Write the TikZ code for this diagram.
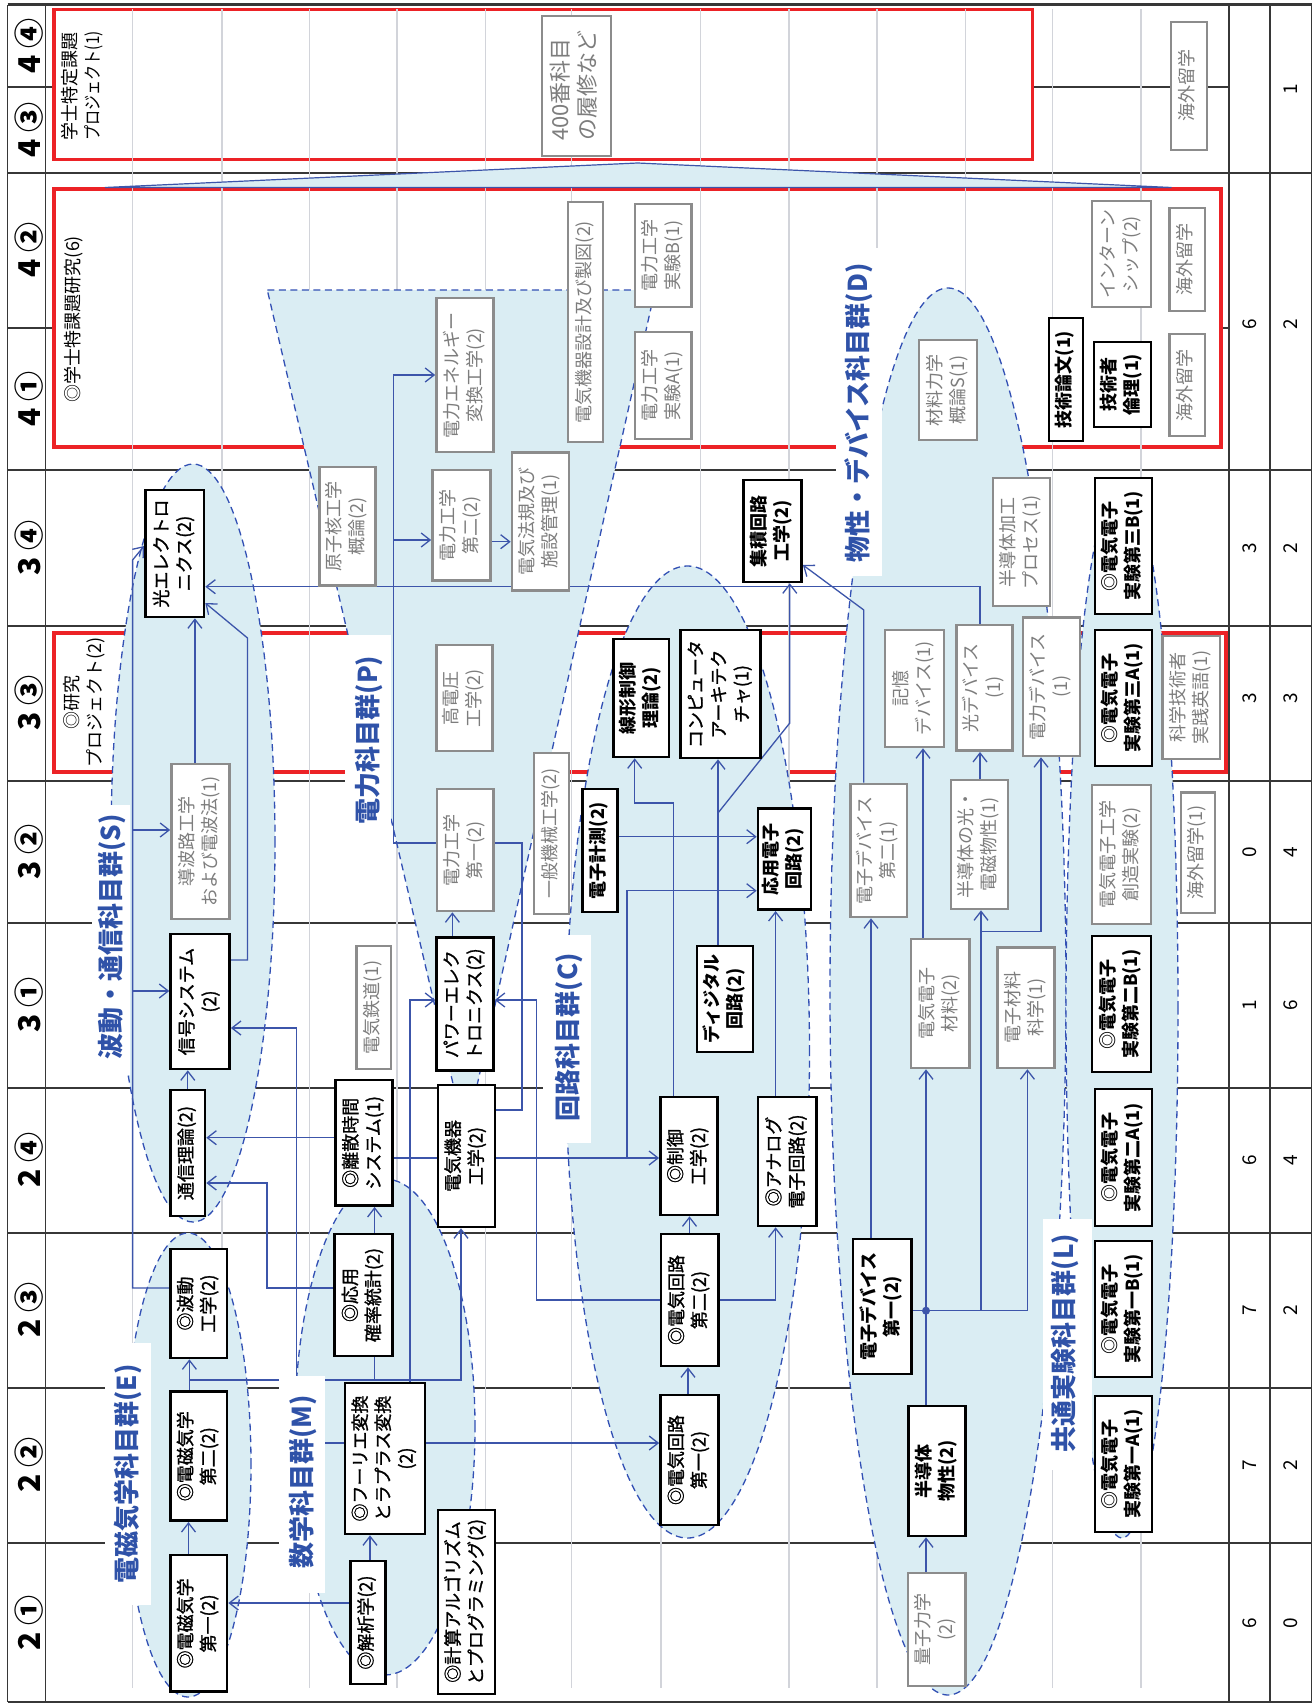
\documentclass[tikz,border=0pt]{standalone}
\usepackage{fontspec}
\usepackage{graphicx}
\setmainfont{Noto Sans CJK JP}
\newfontfamily\medfnt{Noto Sans CJK JP}[FakeBold=1.2]
\usetikzlibrary{arrows.meta,calc}
\definecolor{redc}{RGB}{236,34,38}
\definecolor{fillblue}{RGB}{218,237,243}
\definecolor{dashblue}{RGB}{50,80,180}
\definecolor{connblue}{RGB}{60,85,170}
\definecolor{labelblue}{RGB}{47,82,168}
\definecolor{gridgray}{RGB}{210,212,218}
\definecolor{boxgray}{RGB}{140,140,140}
\definecolor{textgray}{RGB}{125,125,125}
\definecolor{darkline}{RGB}{55,55,55}
\pgfdeclarelayer{bg}\pgfdeclarelayer{fills}\pgfdeclarelayer{lines}\pgfdeclarelayer{labels}
\pgfsetlayers{bg,fills,lines,labels,main}
\newcommand{\rt}[1]{\rotatebox{90}{\begin{tabular}{@{}c@{}}#1\end{tabular}}}
\newcommand{\rtl}[1]{\rotatebox{90}{\begin{tabular}{@{}l@{}}#1\end{tabular}}}
\newcommand{\boxfnt}{\fontsize{18}{23}\selectfont}
\begin{document}
\begin{tikzpicture}[x=1pt,y=-1pt,
  bk/.style={draw=black,line width=2.6pt,fill=white,inner sep=0pt,font=\boxfnt\bfseries},
  bkm/.style={bk,font=\medfnt\boxfnt},
  gy/.style={draw=boxgray,line width=2.6pt,fill=white,inner sep=0pt,text=textgray,font=\boxfnt},
  txt/.style={inner sep=0pt,font=\boxfnt},
  glab/.style={inner sep=0pt,text=labelblue,font=\fontsize{26}{30}\selectfont\bfseries},
  slab/.style={inner sep=0pt,font=\fontsize{30}{34}\selectfont\bfseries},
  num/.style={inner sep=0pt,font=\fontsize{19}{22}\selectfont},
  dk/.style={draw=darkline,line width=1.5pt},
  gl/.style={draw=gridgray,line width=1.5pt},
  fb/.style={fill=fillblue,draw=dashblue,line width=1.3pt,dash pattern=on 7pt off 4.5pt},
  ln/.style={draw=connblue,line width=1.3pt},
  ar/.style={draw=connblue,line width=1.3pt,-{Straight Barb[length=9pt,width=14pt,line width=1.3pt]}}]
\useasboundingbox (0,0) rectangle (1315,1704);
\begin{pgfonlayer}{bg}
\fill[white] (0,0) rectangle (1315,1704);
\foreach \y in {173,470,626,781,923,1088,1233,1388,1543} \draw[dk] (7.6,\y) -- (1311.6,\y);
\foreach \y in {87,328} \draw[dk] (7.6,\y) -- (1229,\y);
\foreach \x in {7.6,45.5,1229,1270,1311.6} \draw[dk] (\x,5) -- (\x,1702);
\draw[dk,line width=3pt] (7.6,5) -- (1311.6,5);
\draw[dk] (7.6,1702) -- (1311.6,1702);
\filldraw[fill=white,draw=redc,line width=3.5pt] (54,9.3) rectangle (1032.6,159.3);
\filldraw[fill=white,draw=redc,line width=3.5pt] (54,189) rectangle (1221,447);
\filldraw[fill=white,draw=redc,line width=3.5pt] (54,633) rectangle (1226,772);
\foreach \x in {132.6,221.8,309.3,396.9,485.3,571.5,788.8,877.2,965.6,1052.7,1141.1} \draw[gl] (\x,9) -- (\x,1688);
\draw[gl] (700.5,9) -- (700.5,850);
\draw[gl] (661,850) -- (661,1688);
\end{pgfonlayer}
\begin{pgfonlayer}{fills}
\filldraw[fill=fillblue,draw=connblue,line width=1.2pt] (105,187.5) -- (637.6,163) -- (1171.6,187.5) -- cycle;
\filldraw[fb] (267.3,290) -- (655,290) -- (465.5,1137) -- cycle;
\filldraw[fb] (193,843) ellipse [x radius=82pt,y radius=379pt];
\filldraw[fb] (188,1465) ellipse [x radius=63pt,y radius=232pt];
\filldraw[fb] (385,1427) ellipse [x radius=90pt,y radius=248pt];
\filldraw[fb] (687.5,1052) ellipse [x radius=122pt,y radius=486pt];
\filldraw[fb] (948,991.5) ellipse [x radius=118pt,y radius=703.5pt];
\filldraw[fb] (1122,1008) ellipse [x radius=56pt,y radius=530pt];
\end{pgfonlayer}
\begin{pgfonlayer}{labels}
\fill[white] (92,805) rectangle (129.5,1075);
\fill[white] (105,1343) rectangle (150.7,1605);
\fill[white] (279,1376) rectangle (325,1593);
\fill[white] (345,635) rectangle (391,850);
\fill[white] (543,935) rectangle (591,1143);
\fill[white] (836,248) rectangle (882,576);
\fill[white] (1043,1219) rectangle (1092,1470);
\end{pgfonlayer}
% semester labels
\node[slab] at (29,46) {\rotatebox{90}{4 ④}};
\node[slab] at (29,130) {\rotatebox{90}{4 ③}};
\node[slab] at (29,250) {\rotatebox{90}{4 ②}};
\node[slab] at (29,399) {\rotatebox{90}{4 ①}};
\node[slab] at (29,548) {\rotatebox{90}{3 ④}};
\node[slab] at (29,703) {\rotatebox{90}{3 ③}};
\node[slab] at (29,852) {\rotatebox{90}{3 ②}};
\node[slab] at (29,1005) {\rotatebox{90}{3 ①}};
\node[slab] at (29,1160) {\rotatebox{90}{2 ④}};
\node[slab] at (29,1310) {\rotatebox{90}{2 ③}};
\node[slab] at (29,1465) {\rotatebox{90}{2 ②}};
\node[slab] at (29,1623) {\rotatebox{90}{2 ①}};
% numbers
\node[num] at (1290.8,89) {\rotatebox{90}{1}};
\foreach \yy/\a/\b in {324/6/2,548/3/2,698/3/3,852/0/4,1005/1/6,1160/6/4,1310/7/2,1465/7/2,1623/6/0}{
  \node[num] at (1249.5,\yy) {\rotatebox{90}{\a}};
  \node[num] at (1290.8,\yy) {\rotatebox{90}{\b}};}
% red box texts
\node[txt,anchor=south] at (83,141) {\rtl{学士特定課題\\\scalebox{0.84}[1]{プロジェクト(1)}}};
\node[txt] at (73.5,319) {\rotatebox{90}{◎学士特課題研究(6)}};
\node[txt] at (85,702) {\rt{◎研究\\プロジェクト(2)}};
% group labels
\node[glab] at (112.5,937) {\rotatebox{90}{波動・通信科目群(S)}};
\node[glab] at (127.5,1474) {\rotatebox{90}{電磁気学科目群(E)}};
\node[glab] at (303,1482) {\rotatebox{90}{数学科目群(M)}};
\node[glab] at (369,740) {\rotatebox{90}{電力科目群(P)}};
\node[glab] at (569.3,1037) {\rotatebox{90}{回路科目群(C)}};
\node[glab] at (858.5,413) {\rotatebox{90}{物性・デバイス科目群(D)}};
\node[glab] at (1065,1343) {\rotatebox{90}{共通実験科目群(L)}};
% black boxes
\node[bkm,minimum width=58.6pt,minimum height=127pt] (hikari) at (174.7,553.5) {\rt{光エレクトロ\\ニクス(2)}};
\node[bkm,minimum width=59pt,minimum height=135pt] (shingo) at (200.1,1001.5) {\rt{信号システム\\(2)}};
\node[bkm,minimum width=34.4pt,minimum height=126pt] (tsushin) at (187.8,1153) {\rt{通信理論(2)}};
\node[bkm,minimum width=56.4pt,minimum height=109pt] (hado) at (198.8,1303.5) {\rt{◎波動\\工学(2)}};
\node[bkm,minimum width=56.4pt,minimum height=129pt] (denjiB) at (198.8,1456.2) {\rt{◎電磁気学\\第二(2)}};
\node[bkm,minimum width=56.4pt,minimum height=136.7pt] (denjiA) at (198.8,1623.4) {\rt{◎電磁気学\\第一(2)}};
\node[bkm,minimum width=57pt,minimum height=125.7pt] (risan) at (364,1142.8) {\rt{◎離散時間\\システム(1)}};
\node[bkm,minimum width=57.7pt,minimum height=122pt] (kakuritsu) at (363.6,1295) {\rt{◎応用\\確率統計(2)}};
\node[bkm,minimum width=80pt,minimum height=151pt] (fourier) at (385,1458.5) {\rt{◎フーリエ変換\\とラプラス変換\\(2)}};
\node[bkm,minimum width=35pt,minimum height=123pt] (kaiseki) at (367.8,1622.5) {\rt{◎解析学(2)}};
\node[bkm,minimum width=56.8pt,minimum height=184pt] (keisan) at (466.4,1602) {\rt{◎計算アルゴリズム\\とプログラミング(2)}};
\node[bkm,minimum width=57pt,minimum height=133pt] (power) at (465,1004.2) {\rt{パワーエレク\\トロニクス(2)}};
\node[bkm,minimum width=56.8pt,minimum height=142pt] (kiki) at (466.4,1156) {\rt{電気機器\\工学(2)}};
\node[bk,minimum width=35pt,minimum height=123pt] (keisoku) at (600.1,850.5) {\rt{電子計測(2)}};
\node[bk,minimum width=55.6pt,minimum height=118pt] (senkei) at (641.2,698) {\rt{線形制御\\理論(2)}};
\node[bkm,minimum width=80pt,minimum height=128pt] (computer) at (720.7,694) {\rt{コンピュータ\\アーキテク\\チャ(1)}};
\node[bk,minimum width=58pt,minimum height=102pt] (shuseki) at (772.6,531) {\rt{集積回路\\工学(2)}};
\node[bk,minimum width=53pt,minimum height=101pt] (oyo) at (784.5,859.2) {\rt{応用電子\\回路(2)}};
\node[bk,minimum width=56pt,minimum height=106pt] (digital) at (725,999) {\rt{ディジタル\\回路(2)}};
\node[bkm,minimum width=57pt,minimum height=118pt] (seigyo) at (688.9,1156) {\rt{◎制御\\工学(2)}};
\node[bkm,minimum width=58.4pt,minimum height=129pt] (analog) at (787.2,1161.5) {\rt{◎アナログ\\電子回路(2)}};
\node[bkm,minimum width=57.6pt,minimum height=132pt] (kairoB) at (689.8,1300) {\rt{◎電気回路\\第二(2)}};
\node[bkm,minimum width=58pt,minimum height=130pt] (kairoA) at (689.5,1460) {\rt{◎電気回路\\第一(2)}};
\node[bk,minimum width=58.7pt,minimum height=135pt] (devA) at (882.2,1306.5) {\rt{電子デバイス\\第一(2)}};
\node[bk,minimum width=56.5pt,minimum height=130pt] (handotai) at (937,1471) {\rt{半導体\\物性(2)}};
\node[bk,minimum width=57pt,minimum height=136pt] (ex3B) at (1123.5,546) {\rt{◎電気電子\\実験第三B(1)}};
\node[bk,minimum width=57pt,minimum height=136pt] (ex3A) at (1123.5,698) {\rt{◎電気電子\\実験第三A(1)}};
\node[bk,minimum width=59pt,minimum height=136pt] (ex2B) at (1121.5,1004) {\rt{◎電気電子\\実験第二B(1)}};
\node[bk,minimum width=57pt,minimum height=137pt] (ex2A) at (1123.5,1157.5) {\rt{◎電気電子\\実験第二A(1)}};
\node[bk,minimum width=57pt,minimum height=136pt] (ex1B) at (1123.5,1309) {\rt{◎電気電子\\実験第一B(1)}};
\node[bk,minimum width=57pt,minimum height=136pt] (ex1A) at (1123.5,1464) {\rt{◎電気電子\\実験第一A(1)}};
\node[bk,minimum width=34pt,minimum height=123pt] (ronbun) at (1066,379.5) {\rt{技術論文(1)}};
\node[bk,minimum width=57pt,minimum height=85pt] (rinri) at (1122.5,384.5) {\rt{技術者\\倫理(1)}};
% gray boxes
\node[gy,minimum width=56pt,minimum height=118.7pt] (genshi) at (347.6,526.3) {\rt{原子核工学\\概論(2)}};
\node[gy,minimum width=58pt,minimum height=110.7pt] (denryoku2) at (461.5,525.3) {\rt{電力工学\\第二(2)}};
\node[gy,minimum width=57pt,minimum height=138pt] (hoki) at (540.5,521.7) {\rt{電気法規及び\\施設管理(1)}};
\node[gy,minimum width=57pt,minimum height=154pt] (energy) at (465,375) {\rt{電力エネルギー\\変換工学(2)}};
\node[gy,minimum width=35pt,minimum height=240pt] (sekkei) at (585.5,322) {\rt{電気機器設計及び製図(2)}};
\node[gy,minimum width=56.5pt,minimum height=103pt] (exB) at (663.2,255.5) {\rt{電力工学\\実験B(1)}};
\node[gy,minimum width=56.5pt,minimum height=107pt] (exA) at (663.2,385.5) {\rt{電力工学\\実験A(1)}};
\node[gy,minimum width=58pt,minimum height=100pt] (zairiki) at (948,390) {\rt{材料力学\\概論S(1)}};
\node[gy,minimum width=59pt,minimum height=106pt] (intern) at (1121.5,254) {\rt{インターン\\シップ(2)}};
\node[gy,minimum width=36pt,minimum height=128pt] (kaigaiT) at (1189,86) {\rt{海外留学}};
\node[gy,minimum width=35.4pt,minimum height=103pt] (kaigaiU) at (1187.3,259.5) {\rt{海外留学}};
\node[gy,minimum width=35.4pt,minimum height=102pt] (kaigaiL) at (1187.3,385) {\rt{海外留学}};
\node[gy,minimum width=56pt,minimum height=106pt] (koden) at (464.6,698) {\rt{高電圧\\工学(2)}};
\node[gy,minimum width=58pt,minimum height=155pt] (doharo) at (200.5,841.5) {\rt{導波路工学\\および電波法(1)}};
\node[gy,minimum width=35pt,minimum height=161pt] (ippan) at (551.5,833.5) {\rt{一般機械工学(2)}};
\node[gy,minimum width=56.5pt,minimum height=122pt] (denryoku1) at (465.2,850) {\rt{電力工学\\第一(2)}};
\node[gy,minimum width=34.4pt,minimum height=123pt] (tetsudo) at (373.8,1007.5) {\rt{電気鉄道(1)}};
\node[gy,minimum width=57pt,minimum height=128pt] (kakou) at (1021.5,542) {\rt{半導体加工\\プロセス(1)}};
\node[gy,minimum width=58.8pt,minimum height=117pt] (kioku) at (914.4,688.5) {\rt{記憶\\デバイス(1)}};
\node[gy,minimum width=56.2pt,minimum height=125.7pt] (hikaridev) at (984.6,687.8) {\rt{光デバイス\\(1)}};
\node[gy,minimum width=57pt,minimum height=138.3pt] (pdev) at (1051.5,686.8) {\rt{電力デバイス\\(1)}};
\node[gy,minimum width=57.3pt,minimum height=123pt] (eigo) at (1191.3,697.5) {\rt{科学技術者\\実践英語(1)}};
\node[gy,minimum width=56.2pt,minimum height=133pt] (devB) at (878.7,850.5) {\rt{電子デバイス\\第二(1)}};
\node[gy,minimum width=57pt,minimum height=129pt] (hikaridenji) at (979.5,844.5) {\rt{半導体の光・\\電磁物性(1)}};
\node[gy,minimum width=59pt,minimum height=139pt] (sozo) at (1121.5,854.5) {\rt{電気電子工学\\創造実験(2)}};
\node[gy,minimum width=34pt,minimum height=120.3pt] (kaigai1) at (1198,852.8) {\rt{海外留学(1)}};
\node[gy,minimum width=58.6pt,minimum height=129pt] (eezai) at (940.3,1003.5) {\rt{電気電子\\材料(2)}};
\node[gy,minimum width=57pt,minimum height=120.3pt] (denshizai) at (1025.9,1007.8) {\rt{電子材料\\科学(1)}};
\node[gy,minimum width=57.3pt,minimum height=113pt] (ryoshi) at (936.6,1629.5) {\rt{量子力学\\(2)}};
\node[gy,line width=1.8pt,minimum width=69pt,minimum height=140pt,font=\fontsize{22}{27}\selectfont] (k400) at (576.2,86) {\rtl{400番科目\\の履修など}};
% connectors
\begin{pgfonlayer}{lines}
\draw[ar] (hado.west |- 0,1288) -- (132.6,1288) -- (132.6,560) -- (hikari.west |- 0,546);
\draw[ar] (132.6,830) -- (doharo.west |- 0,830);
\draw[ar] (132.6,991) -- (shingo.west |- 0,991);
\draw[ar] (tsushin.north) -- (tsushin.north |- shingo.south);
\draw[ar] (shingo.east |- 0,960) -- (247.5,960) -- (247.5,638) -- (hikari.east |- 0,603);
\draw[ar] (doharo.north -| 194.9,0) -- (hikari.south -| 194.9,0);
\draw[ar] (hikaridev.north -| 980,0) -- (980,586.7) -- (hikari.east |- 0,586.7);
\draw[ar] (digital.north -| 718,0) -- (computer.south -| 718,0);
\draw[ar] (718,813) -- (789.8,723) -- (shuseki.south -| 789.8,0);
\draw[ar] (devB.north -| 863.8,0) -- (863.8,610) -- (shuseki.east |- 0,565);
\draw[ar] (seigyo.north -| 673.6,0) -- (673.6,803) -- (634.7,803) -- (senkei.south -| 634.7,0);
\draw[ar] (keisoku.east |- 0,836.7) -- (oyo.west |- 0,836.7);
\draw[ar] (risan.east |- 0,1158) -- (seigyo.west |- 0,1158);
\draw[ar] (627,1158) -- (627,890.7) -- (oyo.west |- 0,890.7);
\draw[ar] (kiki.east |- 0,1110) -- (522,1110) -- (522,843) -- (393.5,843) -- (393.5,375) -- (energy.west |- 0,375);
\draw[ar] (393.5,540) -- (denryoku2.west |- 0,540);
\draw[ar] (power.north -| 452.4,0) -- (denryoku1.south -| 452.4,0);
\draw[ar] (fourier.north -| 410,0) -- (410,1000) -- (power.west |- 0,1000);
\draw[ar] (denryoku2.east |- 0,541.7) -- (hoki.west |- 0,541.7);
\draw[ar] (denjiB.north -| 189.4,0) -- (hado.south -| 189.4,0);
\draw[ar] (189.4,1380) -- (461,1380) -- (kiki.south -| 461,0);
\draw[ar] (296.7,1380) -- (296.7,1028) -- (shingo.east |- 0,1028);
\draw[ln] (kakuritsu.south -| 374.6,0) -- (374.6,1380);
\draw[ar] (kakuritsu.north -| 374.6,0) -- (risan.south -| 374.6,0);
\draw[ar] (kakuritsu.west |- 0,1288) -- (267,1288) -- (267,1183) -- (tsushin.east |- 0,1183);
\draw[ar] (risan.west |- 0,1137.7) -- (tsushin.east |- 0,1137.7);
\draw[ar] (kaiseki.north -| 370,0) -- (fourier.south -| 370,0);
\draw[ar] (kaiseki.west |- 0,1603) -- (denjiA.east |- 0,1603);
\draw[ar] (denjiA.north -| 188.5,0) -- (denjiB.south -| 188.5,0);
\draw[ar] (fourier.east |- 0,1443) -- (kairoA.west |- 0,1443);
\draw[ln] (320,1443) -- (fourier.west |- 0,1443);
\draw[ar] (kairoB.west |- 0,1300) -- (536.6,1300) -- (536.6,1000) -- (power.east |- 0,1000);
\draw[ar] (kairoA.north -| 688,0) -- (kairoB.south -| 688,0);
\draw[ar] (kairoB.north -| 689.5,0) -- (seigyo.south -| 689.5,0);
\draw[ar] (kairoB.east |- 0,1300) -- (775.6,1300) -- (analog.south -| 775.6,0);
\draw[ar] (analog.north -| 775.6,0) -- (oyo.south -| 775.6,0);
\draw[ln] (handotai.north -| 926,0) -- (926,1310.7);
\draw[ar] (926,1310.7) -- (eezai.south -| 926,0);
\draw[ar] (eezai.north -| 923,0) -- (kioku.south -| 923,0);
\draw[ln] (devA.east |- 0,1310.7) -- (1027.4,1310.7);
\draw[ar] (981,1310.7) -- (hikaridenji.south -| 981,0);
\draw[ar] (1027.4,1310.7) -- (denshizai.south -| 1027.4,0);
\draw[ar] (981,931.7) -- (1041,931.7) -- (pdev.south -| 1041,0);
\fill[connblue] (926,1310.7) circle (4pt);
\draw[ar] (devA.north -| 871,0) -- (devB.south -| 871,0);
\draw[ar] (hikaridenji.north -| 980,0) -- (hikaridev.south -| 980,0);
\draw[ar] (ryoshi.north -| 926,0) -- (handotai.south -| 926,0);
\end{pgfonlayer}
\end{tikzpicture}
\end{document}
